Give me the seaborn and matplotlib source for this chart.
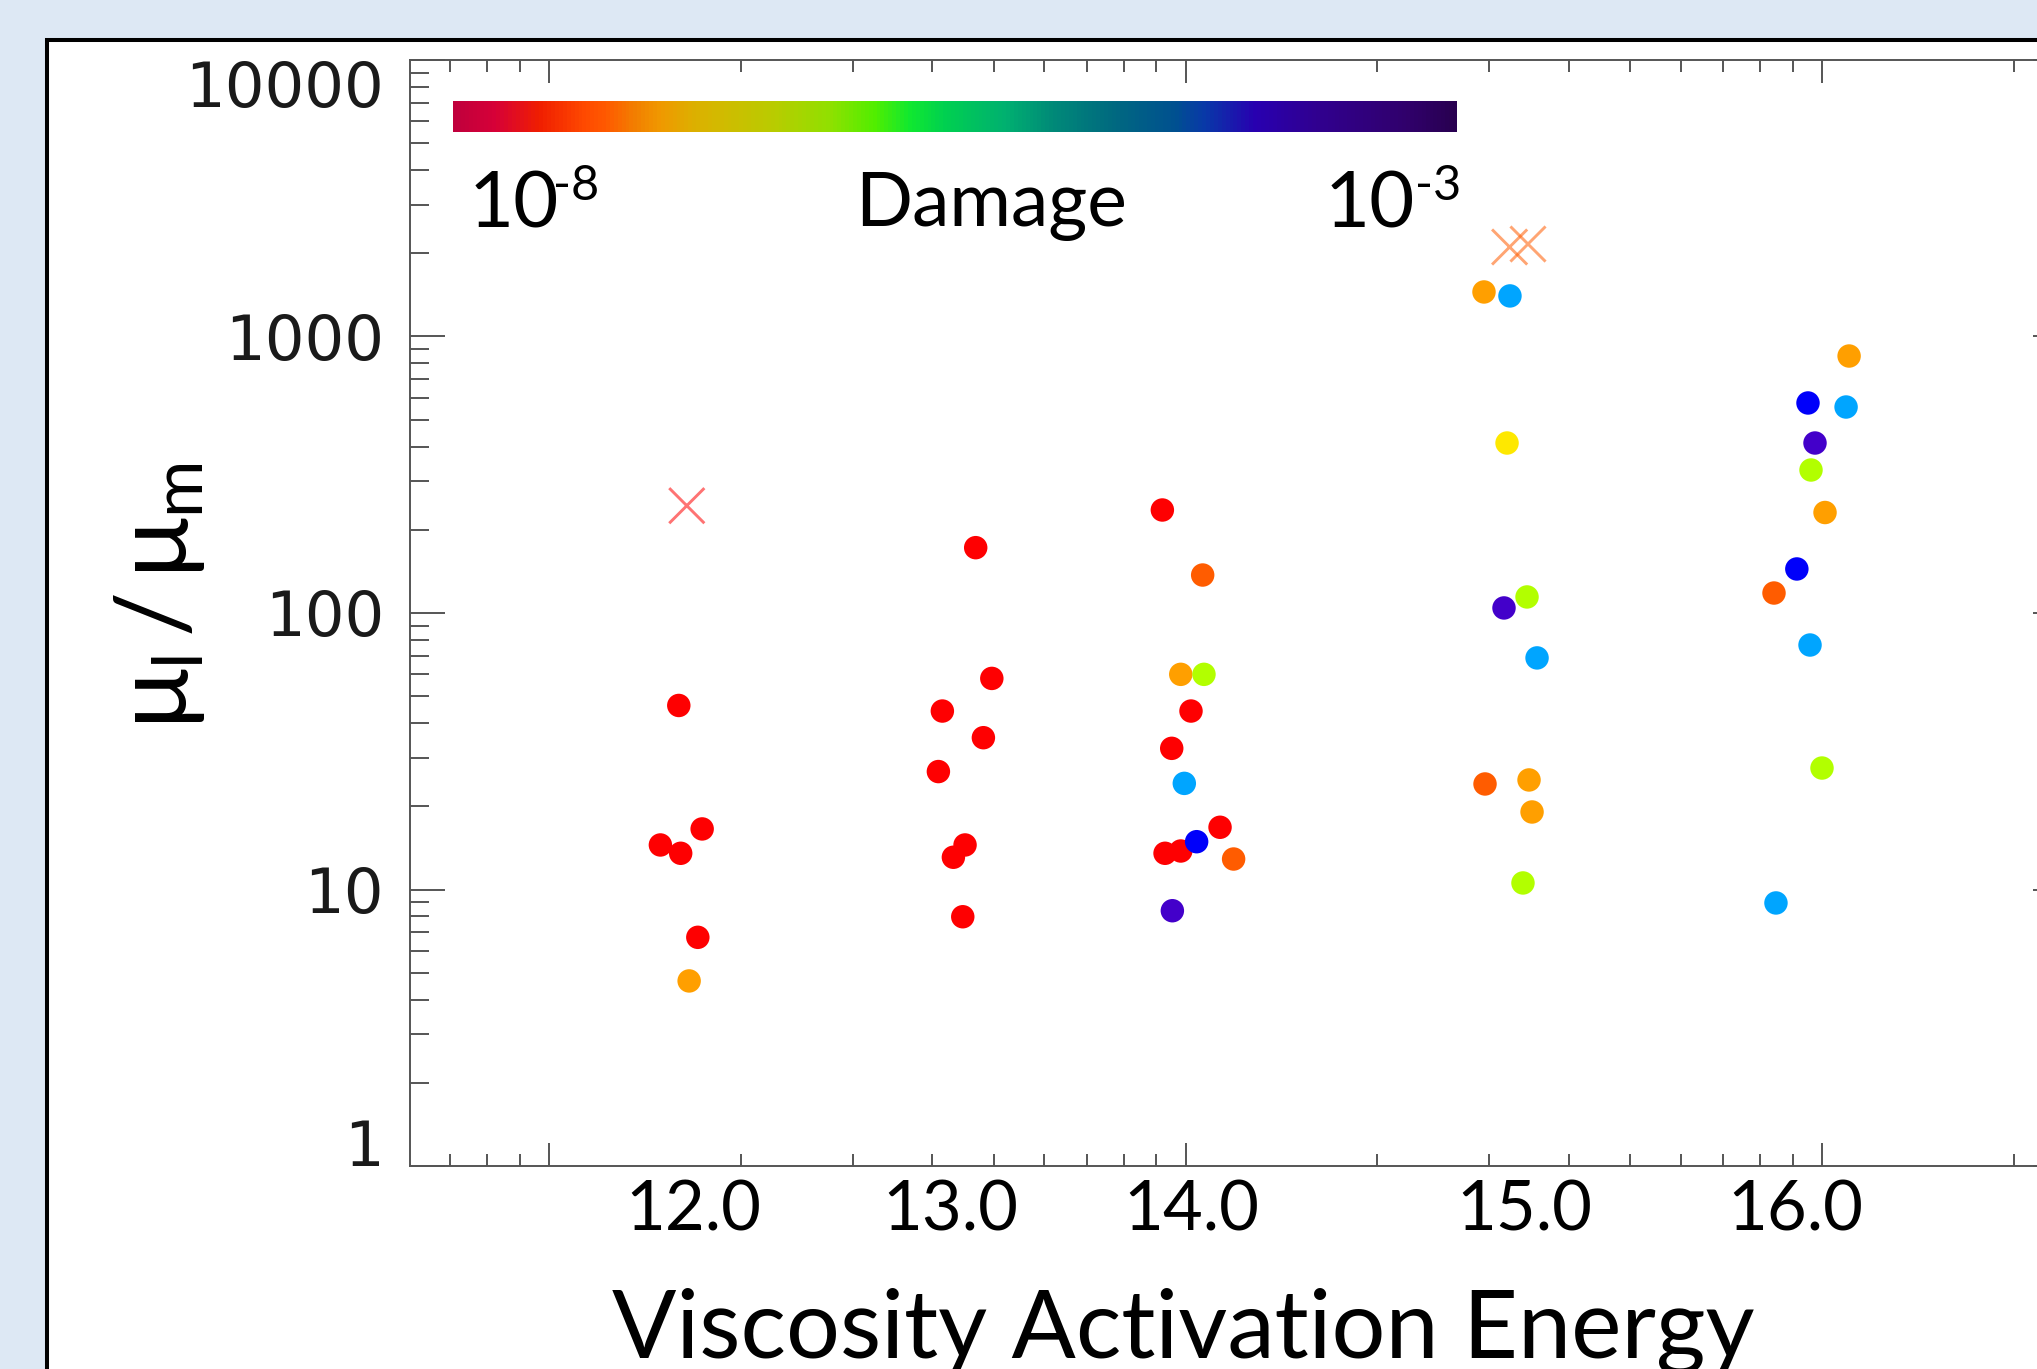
import numpy as np
import pandas as pd
import matplotlib
matplotlib.use("Agg")
import matplotlib.pyplot as plt
import matplotlib.cm as cm
import seaborn as sns
from matplotlib.colors import LinearSegmentedColormap, LogNorm, Normalize
from matplotlib.ticker import LogLocator, FixedLocator, FixedFormatter, NullFormatter
from matplotlib.patches import Rectangle

W, H, DPI = 2037, 1369, 100

# ---------------- data ----------------
energy_labels = ["12.0", "13.0", "14.0", "15.0", "16.0"]
# where each energy label sits on the plot's (logarithmic) x axis
label_pos = [1.684, 4.266, 10.20, 34.02, 90.68]

# damage levels (log10) of the colour classes seen in the plot
RED, ORED, ORG, YEL, YGR, SKY, BLU, IND = -7.4, -7.0, -6.6, -6.3, -5.9, -4.6, -4.0, -3.7

# runs shown as dots: x position on log x axis, viscosity ratio mu_l/mu_m, log10(damage)
dot_x = [1.599, 1.740, 1.496, 1.610, 1.713, 1.660,
         4.681, 4.962, 4.149, 4.813, 4.090, 4.504, 4.318, 4.467,
         9.196, 10.64, 9.829, 10.69, 10.20, 9.513, 9.956, 11.33, 9.829, 9.286, 10.41, 11.90, 9.535,
         29.44, 32.34, 32.00, 31.65, 34.40, 35.67, 29.55, 34.65, 35.03, 33.90,
         110.3, 95.06, 109.1, 97.5, 96.1, 101.1, 91.3, 84.06, 95.76, 100.0, 84.66]
dot_ratio = [46.3, 16.56, 14.49, 13.52, 6.715, 4.67,
             172.3, 58.0, 44.2, 35.4, 26.7, 14.49, 13.08, 7.97,
             235.8, 137.2, 60.0, 60.0, 44.2, 32.4, 24.2, 16.79, 13.78, 13.52, 14.89, 12.89, 8.38,
             1449, 1402, 411.9, 104.3, 114.3, 68.8, 24.08, 24.9, 19.07, 10.56,
             850, 574.9, 555.9, 411.9, 329, 230.9, 144.3, 118.1, 76.6, 27.5, 8.94]
dot_damage = [RED, RED, RED, RED, RED, ORG,
              RED, RED, RED, RED, RED, RED, RED, RED,
              RED, ORED, ORG, YGR, RED, RED, SKY, RED, RED, RED, BLU, ORED, IND,
              ORG, SKY, YEL, IND, YGR, SKY, ORED, ORG, ORG, YGR,
              ORG, BLU, SKY, IND, YGR, ORG, BLU, ORED, SKY, YGR, SKY]

# runs shown as crosses
cross_x = [1.646, 32.30, 34.52]
cross_ratio = [244.4, 2107, 2160]
cross_damage = [RED, ORED, ORED]

y_ticks = [1, 10, 100, 1000, 10000]
y_tick_labels = ["1", "10", "100", "1000", "10000"]
damage_min, damage_max = -8, -3

# ---------------- colours ----------------
point_cmap = LinearSegmentedColormap.from_list("damage_pts", [
    (0.00, "#C8003C"), (0.12, "#FF0000"), (0.20, "#FF5C00"), (0.28, "#FFA000"),
    (0.34, "#FFE800"), (0.42, "#B2FF00"), (0.54, "#00E060"), (0.68, "#00A8FF"),
    (0.80, "#0000FA"), (0.86, "#4400CC"), (1.00, "#280050")])
bar_cmap = LinearSegmentedColormap.from_list("damage_bar", [
    (0.00, "#C0003C"), (0.04, "#D60038"), (0.085, "#F01E00"), (0.13, "#FF4A00"),
    (0.15, "#FF5800"), (0.18, "#F27E00"), (0.205, "#F09800"), (0.24, "#DCB000"),
    (0.26, "#D4B800"), (0.32, "#B8CC00"), (0.375, "#90E000"), (0.42, "#50EE00"),
    (0.455, "#10E830"), (0.49, "#00D050"), (0.55, "#00B070"), (0.60, "#008878"),
    (0.66, "#006880"), (0.72, "#005090"), (0.75, "#0838A8"), (0.80, "#2800B0"),
    (0.86, "#300090"), (0.95, "#30006C"), (1.00, "#280050")])

# ---------------- style ----------------
sns.set_theme(style="ticks")
plt.rcParams["font.family"] = ["Lato", "DejaVu Sans"]
plt.rcParams["mathtext.fontset"] = "custom"
plt.rcParams["mathtext.rm"] = "Lato"
plt.rcParams["mathtext.it"] = "Lato:italic"
plt.rcParams["mathtext.bf"] = "Lato:bold"

fig = plt.figure(figsize=(W / DPI, H / DPI), dpi=DPI, facecolor="#DDE8F4")
fig.patches.append(Rectangle((46.5 / W, -0.1), 1.2, 1.1 - 39.5 / H,
                             transform=fig.transFigure, facecolor="white",
                             edgecolor="black", linewidth=2.9, zorder=-10))

ax = fig.add_axes([410 / W, 1 - 1166 / H, (2068 - 410) / W, (1166 - 60) / H])
ax.patch.set_alpha(0)
ax.set_xscale("log")
ax.set_yscale("log")

dots = pd.DataFrame({"x": dot_x, "ratio": dot_ratio, "damage": dot_damage})
crosses = pd.DataFrame({"x": cross_x, "ratio": cross_ratio, "damage": cross_damage})
hnorm = Normalize(damage_min, damage_max)

sns.scatterplot(data=crosses, x="x", y="ratio", hue="damage", palette=point_cmap,
                hue_norm=hnorm, marker="x", s=640, linewidth=2.1, alpha=0.55,
                legend=False, ax=ax, zorder=3)
sns.scatterplot(data=dots, x="x", y="ratio", hue="damage", palette=point_cmap,
                hue_norm=hnorm, s=285, linewidth=0, legend=False, ax=ax, zorder=4)

ax.set_xlim(0.6047, 243.5)
ax.set_ylim(1, 10000)

ax.xaxis.set_major_locator(LogLocator(base=10, numticks=20))
ax.xaxis.set_minor_locator(LogLocator(base=10, subs=np.arange(2, 10), numticks=20))
ax.xaxis.set_major_formatter(NullFormatter())
ax.xaxis.set_minor_formatter(NullFormatter())
ax.yaxis.set_major_locator(FixedLocator(y_ticks))
ax.yaxis.set_major_formatter(FixedFormatter(y_tick_labels))
ax.yaxis.set_minor_locator(LogLocator(base=10, subs=np.arange(2, 10), numticks=20))
ax.yaxis.set_minor_formatter(NullFormatter())

axis_gray = "#555555"
for s in ax.spines.values():
    s.set_color(axis_gray)
    s.set_linewidth(1.4)
    s.set_visible(True)
ax.tick_params(axis="both", which="both", direction="in", top=True, right=True,
               bottom=True, left=True, color=axis_gray, width=1.4)
ax.tick_params(axis="x", which="major", length=16.5, labelbottom=False)
ax.tick_params(axis="x", which="minor", length=8.6)
ax.tick_params(axis="y", which="major", length=25, labelsize=45, pad=18.7,
               labelcolor="#1a1a1a", labelfontfamily="DejaVu Sans")
ax.tick_params(axis="y", which="minor", length=13.7)

yt = ax.yaxis.get_major_ticks()
yt[0].label1.set_va("baseline")
yt[-1].label1.set_va("top")

# energy labels under the axis
for lab, pos in zip(energy_labels, label_pos):
    ax.text(pos, -0.0579, lab, transform=ax.get_xaxis_transform(), ha="center",
            va="baseline", fontsize=49.5, color="black")

ax.set_xlabel("Viscosity Activation Energy", fontsize=68.5, color="black")
ax.xaxis.set_label_coords(0.4662, -0.1736)
ax.xaxis.label.set_va("baseline")

ax.set_ylabel(r"$\mathregular{μ_l\,/\,μ_m}$", fontsize=72, color="black", va="center")
ax.yaxis.set_label_coords(-0.1508, 0.516)

# colour bar for damage
cax = fig.add_axes([453 / W, 1 - 132 / H, 1004 / W, 31 / H])
cb = fig.colorbar(cm.ScalarMappable(norm=LogNorm(10.0 ** damage_min, 10.0 ** damage_max),
                                    cmap=bar_cmap), cax=cax, orientation="horizontal")
cb.outline.set_visible(False)
cb.set_ticks([])
cb.minorticks_off()

fig.text(469 / W, 1 - 227 / H, "10", ha="left", va="baseline", fontsize=56, color="black")
fig.text(553 / W, 1 - 200 / H, "-8", ha="left", va="baseline", fontsize=35, color="black")
fig.text(1415 / W, 1 - 227 / H, "10", ha="right", va="baseline", fontsize=56, color="black")
fig.text(1415 / W, 1 - 200 / H, "-3", ha="left", va="baseline", fontsize=35, color="black")
fig.text(991.5 / W, 1 - 226 / H, "Damage", ha="center", va="baseline", fontsize=54, color="black")

fig.savefig("out.png", dpi=DPI, facecolor=fig.get_facecolor())
